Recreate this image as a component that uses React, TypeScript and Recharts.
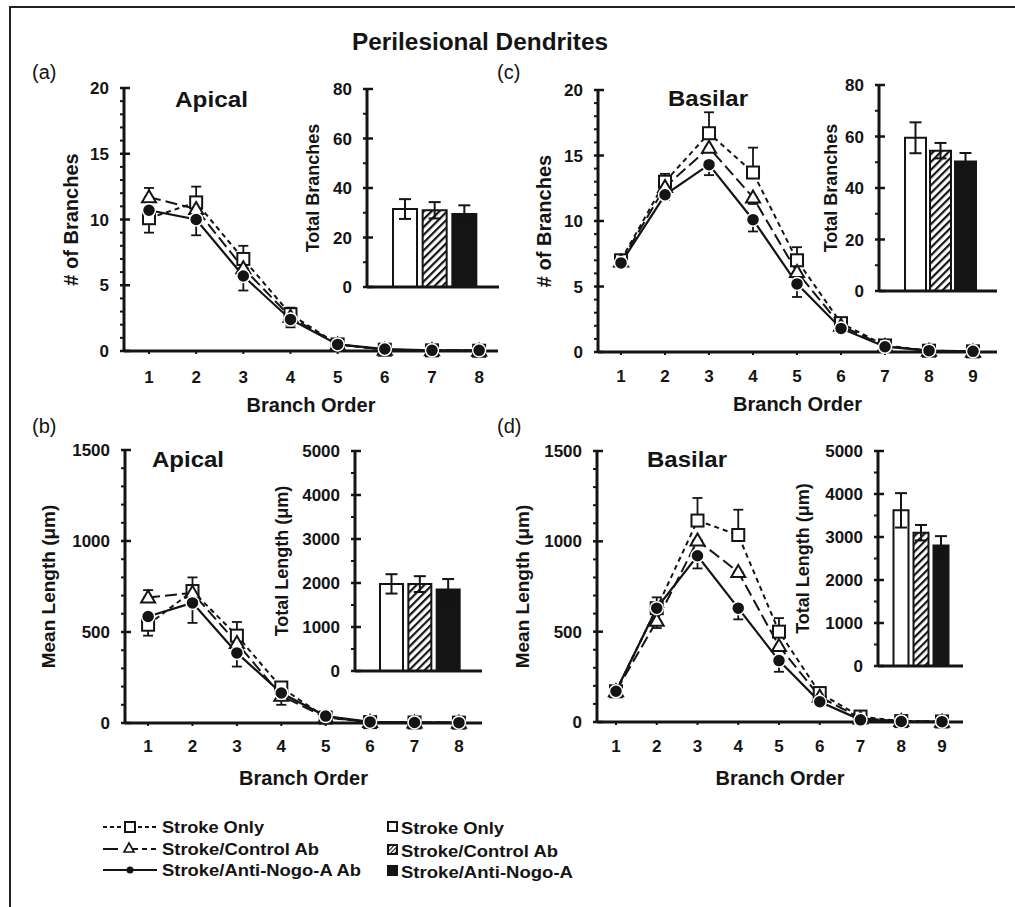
import React from 'react';
import { LineChart, Line, BarChart, Bar, Cell, XAxis, YAxis, ErrorBar } from 'recharts';

const FONT = "'Liberation Sans', Arial, Helvetica, sans-serif";
const INK = '#141414';

// categories
const apicalOrders = [1, 2, 3, 4, 5, 6, 7, 8];
const basilarOrders = [1, 2, 3, 4, 5, 6, 7, 8, 9];
const groups = ['Stroke Only', 'Stroke/Control Ab', 'Stroke/Anti-Nogo-A'];
const lineLegend = ['Stroke Only', 'Stroke/Control Ab', 'Stroke/Anti-Nogo-A Ab'];

// tick labels
const branchTicks = [0, 1, 2, 3, 4, 5, 6, 7, 8, 9, 10, 11, 12, 13, 14, 15, 16, 17, 18, 19, 20];
const lengthTicks = [0, 100, 200, 300, 400, 500, 600, 700, 800, 900, 1000, 1100, 1200, 1300, 1400, 1500];
const totalBranchTicks = [0, 10, 20, 30, 40, 50, 60, 70, 80];
const totalLengthTicks = [0, 500, 1000, 1500, 2000, 2500, 3000, 3500, 4000, 4500, 5000];

// (a) apical, # of branches — errors are [below, above]
const apicalBranchSO = [10.1, 11.3, 7.0, 2.8, 0.5, 0.1, 0.05, 0.02];
const apicalBranchSOErr = [[1.1, 0], [0, 1.2], [0, 1.0], [0, 0.5], [0, 0.1], [0, 0], [0, 0], [0, 0]];
const apicalBranchCtl = [11.7, 10.8, 6.3, 2.6, 0.5, 0.1, 0.05, 0.02];
const apicalBranchCtlErr = [[0, 0.7], [0, 0], [0, 0], [0.8, 0], [0, 0], [0, 0], [0, 0], [0, 0]];
const apicalBranchNogo = [10.7, 10.0, 5.7, 2.4, 0.5, 0.15, 0.05, 0.05];
const apicalBranchNogoErr = [[0, 0], [1.2, 0], [1.1, 0], [0.4, 0], [0, 0], [0, 0], [0, 0], [0, 0]];

// (c) basilar, # of branches
const basilarBranchSO = [7.0, 13.0, 16.7, 13.7, 7.0, 2.2, 0.5, 0.1, 0.05];
const basilarBranchSOErr = [[0, 0.3], [0, 0.6], [0, 1.6], [0, 1.9], [0, 1.0], [0, 0.3], [0, 0.1], [0, 0], [0, 0]];
const basilarBranchCtl = [6.9, 12.6, 15.6, 11.8, 6.1, 2.0, 0.45, 0.1, 0.02];
const basilarBranchCtlErr = [[0, 0], [0, 0], [0, 0], [0.5, 0], [0, 0], [0, 0], [0, 0], [0, 0], [0, 0]];
const basilarBranchNogo = [6.8, 12.0, 14.3, 10.1, 5.2, 1.8, 0.4, 0.1, 0.05];
const basilarBranchNogoErr = [[0.3, 0], [0.4, 0], [0.8, 0], [0.9, 0], [1.0, 0], [0.3, 0], [0, 0], [0, 0], [0, 0]];

// (b) apical, mean length
const apicalLengthSO = [540, 725, 480, 195, 30, 5, 3, 2];
const apicalLengthSOErr = [[60, 0], [0, 75], [0, 75], [0, 0], [0, 0], [0, 0], [0, 0], [0, 0]];
const apicalLengthCtl = [690, 715, 440, 150, 30, 5, 3, 2];
const apicalLengthCtlErr = [[0, 40], [0, 0], [0, 0], [50, 0], [0, 0], [0, 0], [0, 0], [0, 0]];
const apicalLengthNogo = [585, 660, 385, 165, 38, 6, 3, 2];
const apicalLengthNogoErr = [[0, 0], [110, 0], [75, 0], [0, 0], [0, 0], [0, 0], [0, 0], [0, 0]];

// (d) basilar, mean length
const basilarLengthSO = [170, 630, 1115, 1035, 500, 160, 30, 5, 3];
const basilarLengthSOErr = [[0, 0], [0, 60], [0, 125], [0, 140], [0, 75], [0, 0], [0, 0], [0, 0], [0, 0]];
const basilarLengthCtl = [170, 560, 1005, 830, 420, 140, 20, 5, 2];
const basilarLengthCtlErr = [[0, 0], [40, 0], [0, 0], [0, 0], [0, 0], [0, 0], [0, 0], [0, 0], [0, 0]];
const basilarLengthNogo = [170, 630, 920, 630, 340, 112, 12, 3, 2];
const basilarLengthNogoErr = [[0, 0], [0, 0], [70, 0], [62, 0], [62, 0], [0, 0], [0, 0], [0, 0], [0, 0]];

// insets: totals
const apicalTotalBranches = [31.5, 31, 29.5];
const apicalTotalBranchesErr = [4, 3.3, 3.5];
const basilarTotalBranches = [59.5, 54.5, 50.3];
const basilarTotalBranchesErr = [6, 3, 3.3];
const apicalTotalLength = [1980, 1975, 1850];
const apicalTotalLengthErr = [220, 180, 240];
const basilarTotalLength = [3620, 3100, 2800];
const basilarTotalLengthErr = [400, 180, 220];

const lineRows = (orders: number[], so: number[], soErr: number[][], ctl: number[], ctlErr: number[][], nogo: number[], nogoErr: number[][]) =>
  orders.map((order, i) => ({
    order, so: so[i], soErr: soErr[i], ctl: ctl[i], ctlErr: ctlErr[i], nogo: nogo[i], nogoErr: nogoErr[i],
  }));

const barRows = (values: number[], errs: number[]) =>
  groups.map((group, i) => ({ group, value: values[i], err: errs[i] }));

const yTick = (major: number) => (props: any) => {
  const { x, y, payload } = props;
  const v = Number(payload.value);
  const isMajor = v % major === 0;
  return (
    <g>
      <line x1={x - 4} x2={isMajor ? x + 6 : x} y1={y} y2={y} stroke={INK} strokeWidth={isMajor ? 2.5 : 2} />
      {isMajor && (
        <text x={x - 15} y={y} dy="0.36em" textAnchor="end" fontSize={17} fontWeight={700} fill={INK} fontFamily={FONT}>
          {v}
        </text>
      )}
    </g>
  );
};

const squareDot = (p: any) => (
  <rect key={`s${p.index}`} x={p.cx - 6} y={p.cy - 6} width={12} height={12} fill="#fff" stroke={INK} strokeWidth={2} />
);
const triangleDot = (p: any) => (
  <polygon key={`t${p.index}`} points={`${p.cx},${p.cy - 7} ${p.cx - 7},${p.cy + 5} ${p.cx + 7},${p.cy + 5}`} fill="#fff" stroke={INK} strokeWidth={2} />
);
const circleDot = (p: any) => (
  <circle key={`c${p.index}`} cx={p.cx} cy={p.cy} r={6.5} fill={INK} stroke="#fff" strokeWidth={1.5} />
);

const LinePanel = ({ left, top, width, height, yWidth, xHeight, tickGap, xDomain, xTicks, yDomain, yTicks, major, yLabel, yLabelSize, data }: any) => (
  <div style={{ position: 'absolute', left, top }}>
    <LineChart width={width} height={height + 8} data={data} margin={{ top: 10, right: 4, left: 0, bottom: 8 }}>
      <XAxis
        type="number" dataKey="order" domain={xDomain} ticks={xTicks} interval={0} height={xHeight}
        axisLine={{ stroke: INK, strokeWidth: 3 }} tickLine={{ stroke: INK, strokeWidth: 2 }} tickSize={3} tickMargin={tickGap}
        tick={{ fontSize: 17, fontWeight: 700, fill: INK, fontFamily: FONT }}
        label={{ value: 'Branch Order', position: 'insideBottom', offset: 0, fontSize: 20, fontWeight: 700, fill: INK, fontFamily: FONT }}
      />
      <YAxis
        type="number" domain={yDomain} ticks={yTicks} interval={0} width={yWidth}
        axisLine={{ stroke: INK, strokeWidth: 3 }} tickLine={false} tickSize={0} tickMargin={0} tick={yTick(major)}
        label={{ value: yLabel, angle: -90, position: 'center', fontSize: yLabelSize, fontWeight: 700, fill: INK, fontFamily: FONT }}
      />
      <Line type="linear" dataKey="so" stroke={INK} strokeWidth={2} strokeDasharray="5 4" dot={squareDot} activeDot={false} isAnimationActive={false}>
        <ErrorBar dataKey="soErr" width={5} stroke={INK} strokeWidth={1.8} direction="y" />
      </Line>
      <Line type="linear" dataKey="ctl" stroke={INK} strokeWidth={2} strokeDasharray="12 5" dot={triangleDot} activeDot={false} isAnimationActive={false}>
        <ErrorBar dataKey="ctlErr" width={5} stroke={INK} strokeWidth={1.8} direction="y" />
      </Line>
      <Line type="linear" dataKey="nogo" stroke={INK} strokeWidth={2.2} dot={circleDot} activeDot={false} isAnimationActive={false}>
        <ErrorBar dataKey="nogoErr" width={5} stroke={INK} strokeWidth={1.8} direction="y" />
      </Line>
    </LineChart>
  </div>
);

const InsetBars = ({ id, left, top, width, height, yWidth, pad, barSize, yDomain, yTicks, major, yLabel, data }: any) => (
  <div style={{ position: 'absolute', left, top }}>
    <BarChart width={width} height={height + 12} data={data} margin={{ top: 10, right: 4, left: 0, bottom: 14 }}>
      <defs>
        <pattern id={id} patternUnits="userSpaceOnUse" width="5.5" height="5.5" patternTransform="rotate(45)">
          <rect width="5.5" height="5.5" fill="#fff" />
          <line x1="1" y1="0" x2="1" y2="5.5" stroke={INK} strokeWidth="2.4" />
        </pattern>
      </defs>
      <XAxis dataKey="group" type="category" tick={false} tickLine={false} height={2} padding={pad} axisLine={{ stroke: INK, strokeWidth: 3 }} />
      <YAxis
        type="number" domain={yDomain} ticks={yTicks} interval={0} width={yWidth}
        axisLine={{ stroke: INK, strokeWidth: 3 }} tickLine={false} tickSize={0} tickMargin={0} tick={yTick(major)}
        label={{ value: yLabel, angle: -90, position: 'center', fontSize: 18, fontWeight: 700, fill: INK, fontFamily: FONT }}
      />
      <Bar dataKey="value" barSize={barSize} stroke={INK} strokeWidth={2} isAnimationActive={false}>
        {data.map((d: any, i: number) => (
          <Cell key={d.group} fill={i === 0 ? '#fff' : i === 1 ? `url(#${id})` : INK} />
        ))}
        <ErrorBar dataKey="err" width={6} stroke={INK} strokeWidth={2} direction="y" />
      </Bar>
    </BarChart>
  </div>
);

const Overlay = () => {
  const t = { fontFamily: FONT, fill: INK };
  const rowsL = [833, 855, 876];
  const rowsR = [834, 857, 878];
  const swatch = ['#fff', 'url(#hatch-legend)', INK];
  const lenL = [102, 157, 199];
  const lenR = [103, 157, 172];
  return (
    <svg width={1015} height={907} style={{ position: 'absolute', left: 0, top: 0 }}>
      <defs>
        <pattern id="hatch-legend" patternUnits="userSpaceOnUse" width="3" height="3" patternTransform="rotate(45)">
          <rect width="3" height="3" fill="#fff" />
          <line x1="0.5" y1="0" x2="0.5" y2="3" stroke={INK} strokeWidth="1.2" />
        </pattern>
      </defs>
      <text x={480} y={50} textAnchor="middle" fontSize={23} fontWeight={700} textLength={256} lengthAdjust="spacingAndGlyphs" {...t}>
        Perilesional Dendrites
      </text>
      <text x={32} y={79} fontSize={20} {...t}>(a)</text>
      <text x={497} y={79} fontSize={20} {...t}>(c)</text>
      <text x={32} y={433} fontSize={20} {...t}>(b)</text>
      <text x={497} y={433} fontSize={20} {...t}>(d)</text>
      <text x={175} y={107} fontSize={22} fontWeight={700} textLength={73} lengthAdjust="spacingAndGlyphs" {...t}>Apical</text>
      <text x={668} y={106} fontSize={22} fontWeight={700} textLength={80} lengthAdjust="spacingAndGlyphs" {...t}>Basilar</text>
      <text x={152} y={467} fontSize={22} fontWeight={700} textLength={72} lengthAdjust="spacingAndGlyphs" {...t}>Apical</text>
      <text x={647} y={467} fontSize={22} fontWeight={700} textLength={80} lengthAdjust="spacingAndGlyphs" {...t}>Basilar</text>

      {/* line legend */}
      <line x1={103} x2={157} y1={rowsL[0] - 6} y2={rowsL[0] - 6} stroke={INK} strokeWidth={1.8} strokeDasharray="4 3" />
      <rect x={125} y={rowsL[0] - 11} width={10} height={10} fill="#fff" stroke={INK} strokeWidth={2} />
      <line x1={103} x2={118} y1={rowsL[1] - 6} y2={rowsL[1] - 6} stroke={INK} strokeWidth={2} />
      <line x1={133} x2={157} y1={rowsL[1] - 6} y2={rowsL[1] - 6} stroke={INK} strokeWidth={2} strokeDasharray="5 4" />
      <polygon points={`129,${rowsL[1] - 12} 124,${rowsL[1] - 3} 134,${rowsL[1] - 3}`} fill="#fff" stroke={INK} strokeWidth={1.6} />
      <line x1={103} x2={157} y1={rowsL[2] - 6} y2={rowsL[2] - 6} stroke={INK} strokeWidth={2} />
      <circle cx={130} cy={rowsL[2] - 6} r={3.5} fill={INK} />
      {lineLegend.map((s, i) => (
        <text key={s} x={162} y={rowsL[i]} fontSize={17} fontWeight={700} textLength={lenL[i]} lengthAdjust="spacingAndGlyphs" {...t}>{s}</text>
      ))}

      {/* bar legend */}
      {groups.map((s, i) => (
        <g key={s}>
          <rect x={388} y={rowsR[i] - 12} width={9} height={9} fill={swatch[i]} stroke={INK} strokeWidth={2} />
          <text x={401} y={rowsR[i]} fontSize={17} fontWeight={700} textLength={lenR[i]} lengthAdjust="spacingAndGlyphs" {...t}>{s}</text>
        </g>
      ))}
    </svg>
  );
};

export default function App() {
  const dataA = lineRows(apicalOrders, apicalBranchSO, apicalBranchSOErr, apicalBranchCtl, apicalBranchCtlErr, apicalBranchNogo, apicalBranchNogoErr);
  const dataC = lineRows(basilarOrders, basilarBranchSO, basilarBranchSOErr, basilarBranchCtl, basilarBranchCtlErr, basilarBranchNogo, basilarBranchNogoErr);
  const dataB = lineRows(apicalOrders, apicalLengthSO, apicalLengthSOErr, apicalLengthCtl, apicalLengthCtlErr, apicalLengthNogo, apicalLengthNogoErr);
  const dataD = lineRows(basilarOrders, basilarLengthSO, basilarLengthSOErr, basilarLengthCtl, basilarLengthCtlErr, basilarLengthNogo, basilarLengthNogoErr);

  return (
    <div style={{ position: 'absolute', left: 0, top: 0, width: 1015, height: 907, background: '#fff', overflow: 'hidden', fontFamily: FONT }}>
      <div style={{ position: 'absolute', left: 9, top: 6, width: 1006, height: 901, borderTop: '2px solid #222', borderLeft: '2px solid #222', boxSizing: 'border-box' }} />
      <Overlay />

      <LinePanel left={18} top={78} width={484} height={334} yWidth={106} xHeight={61} tickGap={17}
        xDomain={[0.47, 8.4]} xTicks={apicalOrders} yDomain={[0, 20]} yTicks={branchTicks} major={5}
        yLabel="# of Branches" yLabelSize={20} data={dataA} />
      <InsetBars id="hatch-a" left={259} top={79} width={244} height={212} yWidth={108} pad={{ left: 23, right: 20 }} barSize={24}
        yDomain={[0, 80]} yTicks={totalBranchTicks} major={20} yLabel="Total Branches" data={barRows(apicalTotalBranches, apicalTotalBranchesErr)} />

      <LinePanel left={490} top={80} width={511} height={331} yWidth={108} xHeight={59} tickGap={15}
        xDomain={[0.477, 9.545]} xTicks={basilarOrders} yDomain={[0, 20]} yTicks={branchTicks} major={5}
        yLabel="# of Branches" yLabelSize={20} data={dataC} />
      <InsetBars id="hatch-c" left={783} top={75} width={218} height={220} yWidth={96} pad={{ left: 24, right: 19 }} barSize={21}
        yDomain={[0, 80]} yTicks={totalBranchTicks} major={20} yLabel="Total Branches" data={barRows(basilarTotalBranches, basilarTotalBranchesErr)} />

      <LinePanel left={-29} top={440} width={515} height={345} yWidth={154} xHeight={62} tickGap={14}
        xDomain={[0.48, 8.52]} xTicks={apicalOrders} yDomain={[0, 1500]} yTicks={lengthTicks} major={500}
        yLabel="Mean Length (μm)" yLabelSize={19} data={dataB} />
      <InsetBars id="hatch-b" left={209} top={441} width={277} height={234} yWidth={146} pad={{ left: 22, right: 20 }} barSize={23}
        yDomain={[0, 5000]} yTicks={totalLengthTicks} major={1000} yLabel="Total Length (μm)" data={barRows(apicalTotalLength, apicalTotalLengthErr)} />

      <LinePanel left={447} top={441} width={520} height={344} yWidth={150} xHeight={63} tickGap={15}
        xDomain={[0.534, 9.515]} xTicks={basilarOrders} yDomain={[0, 1500]} yTicks={lengthTicks} major={500}
        yLabel="Mean Length (μm)" yLabelSize={19} data={dataD} />
      <InsetBars id="hatch-d" left={728} top={441} width={239} height={229} yWidth={150} pad={{ left: 12.5, right: 12.5 }} barSize={15}
        yDomain={[0, 5000]} yTicks={totalLengthTicks} major={1000} yLabel="Total Length (μm)" data={barRows(basilarTotalLength, basilarTotalLengthErr)} />
    </div>
  );
}
